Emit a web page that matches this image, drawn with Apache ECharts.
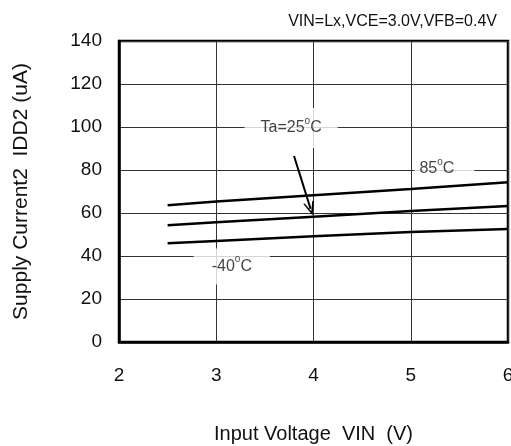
<!DOCTYPE html>
<html>
<head>
<meta charset="utf-8">
<script src="https://cdn.jsdelivr.net/npm/echarts@6/dist/echarts.min.js"></script>
<style>
html,body{margin:0;padding:0;background:#fff;}
#chart{width:511px;height:446px;}
</style>
</head>
<body>
<div id="chart"></div>
<script>
// Data
const voltages = [2.5, 3, 4, 5, 6];
const ta85 = [63.6, 65.4, 68.3, 71.2, 74.3];
const ta25 = [54.3, 55.7, 58.3, 60.9, 63.3];
const taM40 = [45.9, 47.0, 49.2, 51.2, 52.6];
const xTicks = [2, 3, 4, 5, 6];
const yTicks = [0, 20, 40, 60, 80, 100, 120, 140];
const conditionText = 'VIN=Lx,VCE=3.0V,VFB=0.4V';

const FONT = '"Liberation Sans", Arial, sans-serif';
const TXT = '#111';

function pairs(xs, ys) { return xs.map((x, i) => [x, ys[i]]); }

const lineStyle = { color: '#000', width: 2.5 };
function curve(name, ys) {
  return {
    name, type: 'line', data: pairs(voltages, ys), showSymbol: false, symbol: 'none',
    lineStyle, silent: true, z: 6
  };
}

const rich = {
  s: { fontSize: 10, fontFamily: FONT, color: TXT, padding: [0, 0, 14, 0] }
};
function note(text, x, y, pad) {
  return {
    value: [x, y],
    label: {
      show: true, position: 'inside', formatter: text,
      fontSize: 16, fontFamily: FONT, color: TXT,
      backgroundColor: '#fff', padding: pad, rich
    }
  };
}

const chart = echarts.init(document.getElementById('chart'), null, { renderer: 'canvas' });
chart.setOption({
  animation: false,
  backgroundColor: '#fff',
  title: {
    text: conditionText, right: 9, top: 9,
    textStyle: { fontSize: 16, fontWeight: 'normal', fontFamily: FONT, color: TXT }
  },
  grid: {
    left: 119, right: 3, top: 41, bottom: 104, containLabel: false,
    outerBoundsMode: 'none',
    show: true, borderColor: '#000', borderWidth: 2.5, backgroundColor: 'transparent'
  },
  xAxis: {
    type: 'value', min: xTicks[0], max: xTicks[xTicks.length - 1], interval: 1,
    name: 'Input Voltage  VIN  (V)', nameLocation: 'middle', nameGap: 82,
    nameTextStyle: { fontSize: 20, fontFamily: FONT, color: TXT },
    axisLine: { show: true, lineStyle: { color: '#000', width: 2.5 } },
    axisTick: { show: false },
    axisLabel: { fontSize: 19, fontFamily: FONT, color: TXT, margin: 24 },
    splitLine: { show: true, lineStyle: { color: '#333', width: 1 } }
  },
  yAxis: {
    type: 'value', min: yTicks[0], max: yTicks[yTicks.length - 1], interval: 20,
    name: 'Supply Current2  IDD2 (uA)', nameLocation: 'middle', nameGap: 87,
    nameTextStyle: { fontSize: 21, fontFamily: FONT, color: TXT },
    axisLine: { show: true, lineStyle: { color: '#000', width: 2.5 } },
    axisTick: { show: false },
    axisLabel: { fontSize: 19, fontFamily: FONT, color: TXT, margin: 17 },
    splitLine: { show: true, lineStyle: { color: '#333', width: 1 } }
  },
  series: [
    curve('85°C', ta85),
    curve('25°C', ta25),
    curve('-40°C', taM40),
    {
      type: 'scatter', symbolSize: 0, silent: true, z: 4,
      data: [
        note('Ta=25{s|o}C', 3.77, 99.5, [8, 16, 8, 16]),
        note('85{s|o}C', 5.346, 80.5, [4, 20, 4, 5]),
        note('-40{s|o}C', 3.16, 35.1, [6, 18, 6, 18])
      ],
      markLine: {
        silent: true, animation: false,
        symbol: ['none', 'path://M0,12 L5,0 L10,12 L8.6,12 L5,4 L1.4,12 Z'],
        symbolSize: [11, 14],
        lineStyle: { color: '#000', width: 2, type: 'solid' },
        label: { show: false },
        data: [[{ coord: [3.80, 86.5] }, { coord: [3.97, 61.9] }]]
      }
    }
  ]
});
</script>
</body>
</html>
